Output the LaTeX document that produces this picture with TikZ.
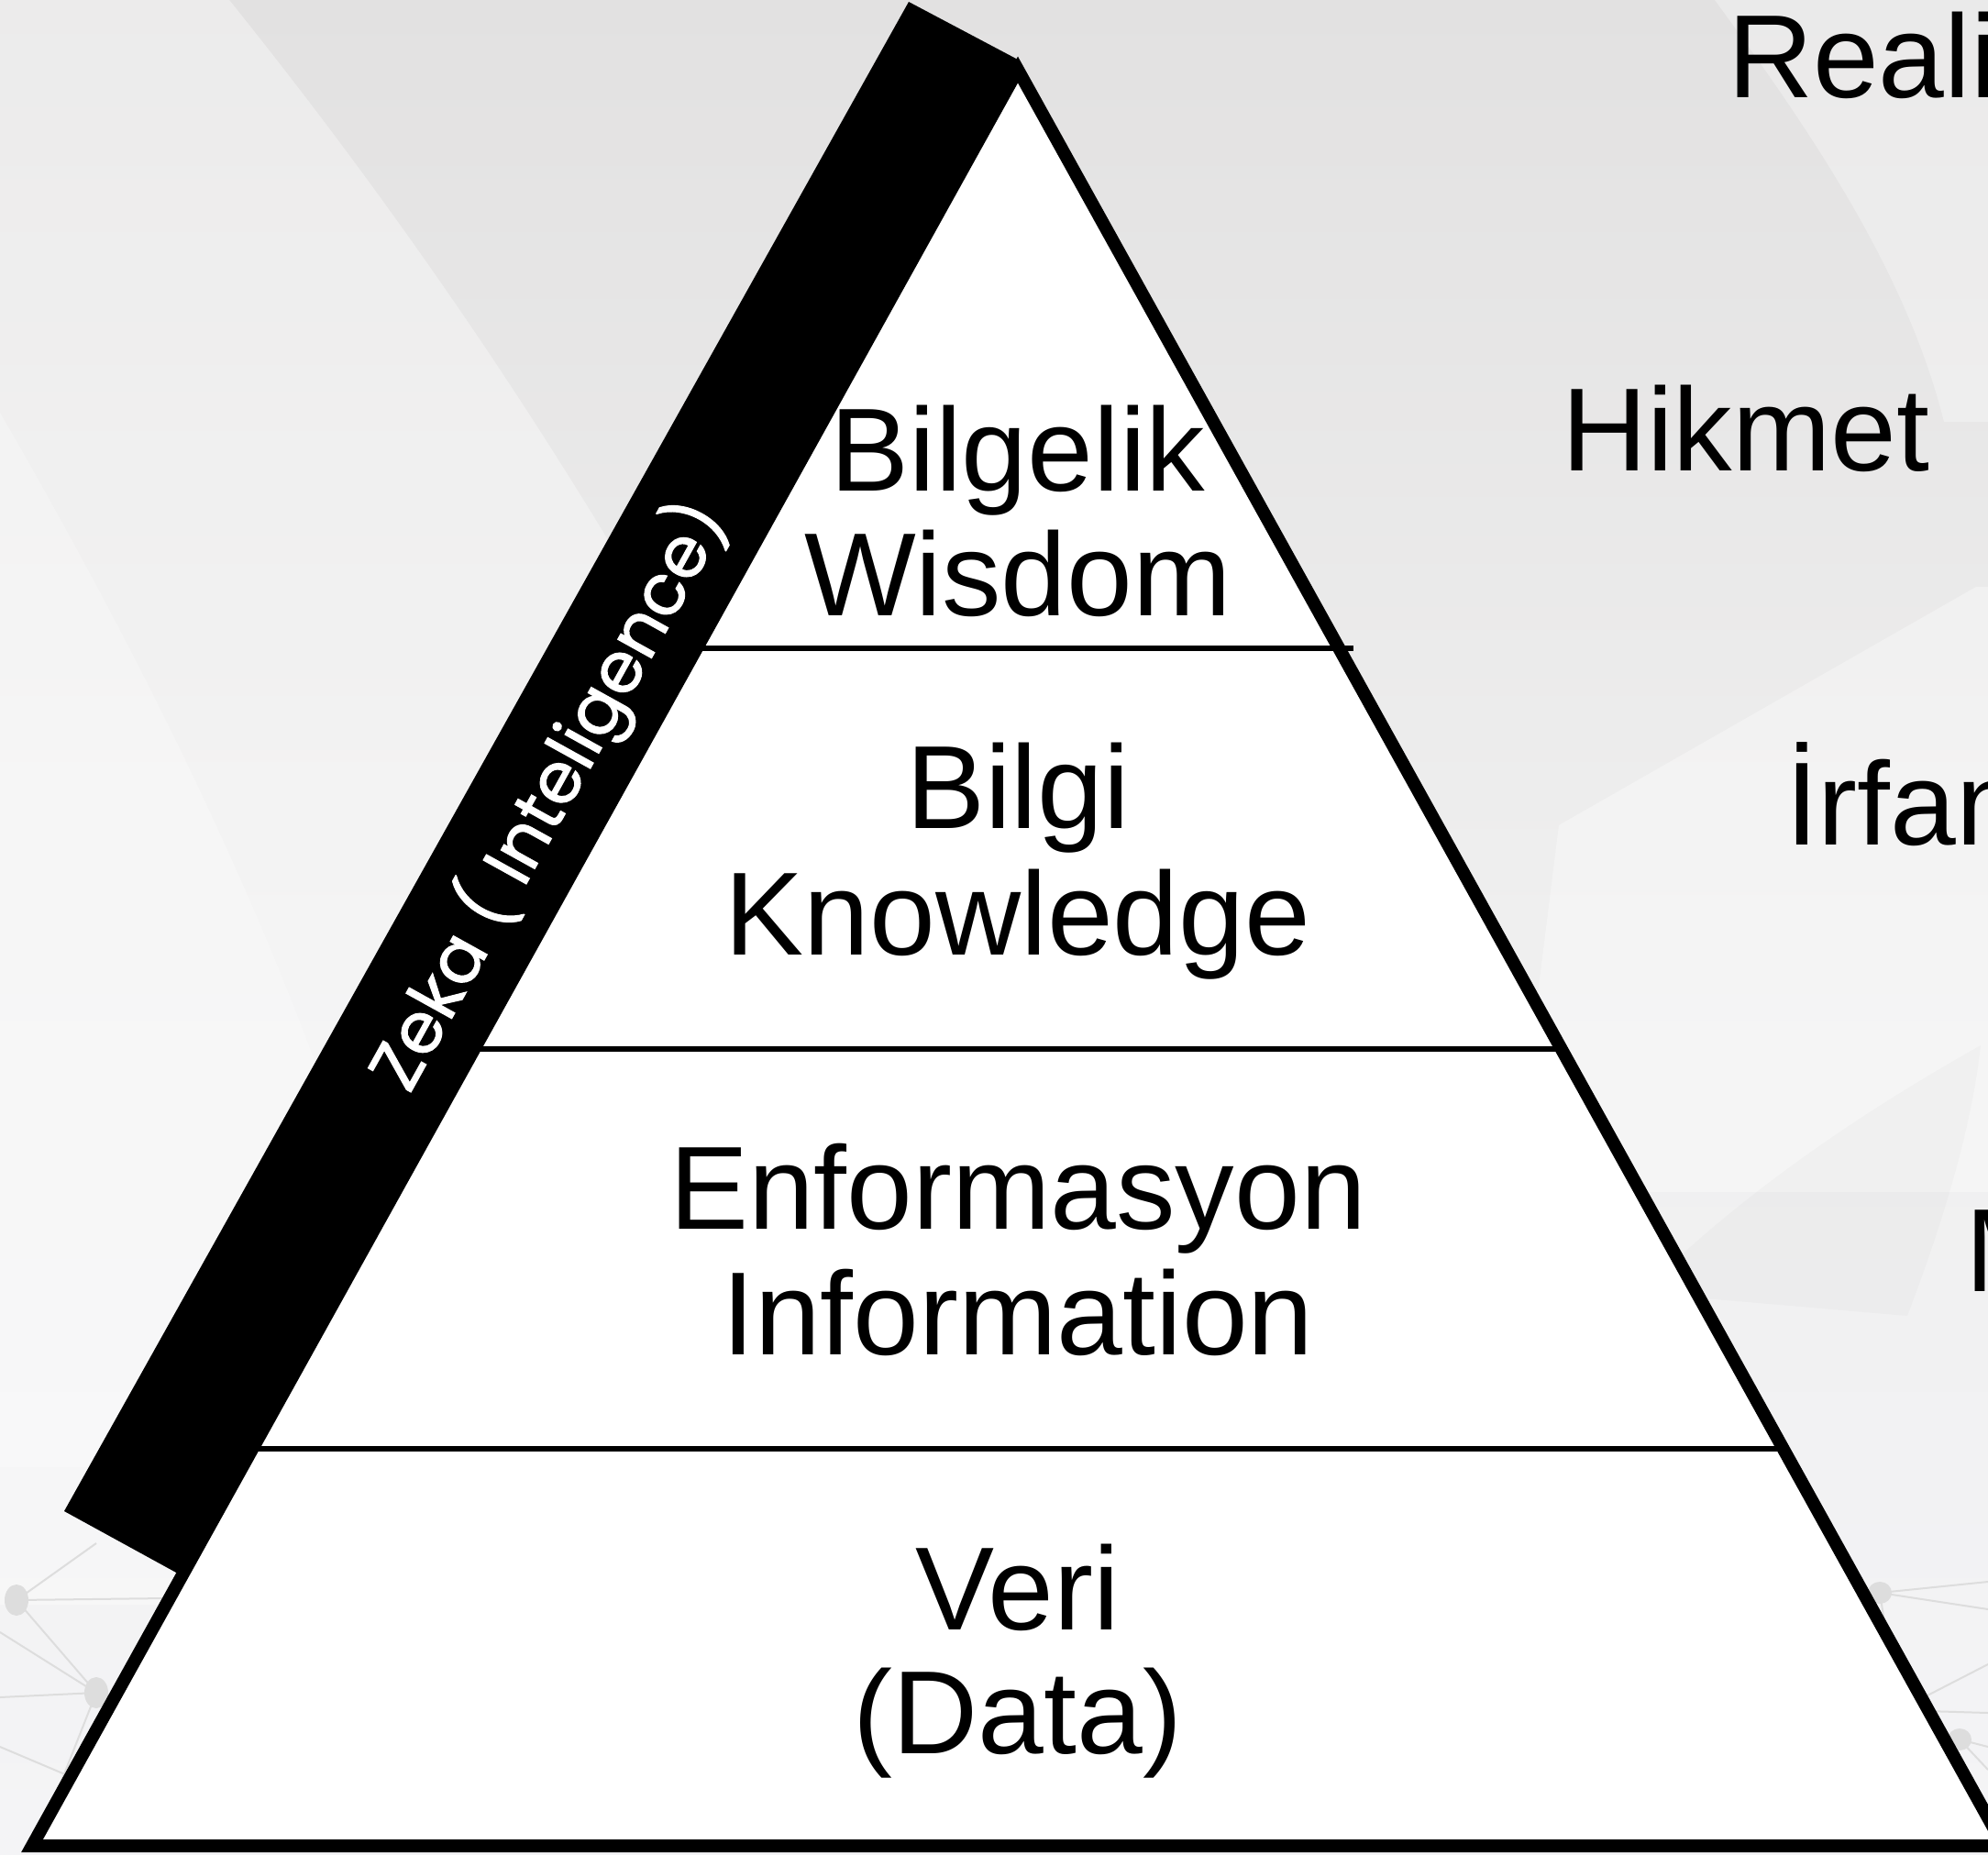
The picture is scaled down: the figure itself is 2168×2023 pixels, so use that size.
\documentclass[tikz,border=0pt]{standalone}
\usepackage{fontspec}
\setmainfont{Liberation Sans}
\newfontfamily\bandfont[FakeBold=1.3]{Poppins}
\definecolor{bgtop}{HTML}{E2E1E1}
\definecolor{bgmid}{HTML}{EFEFEF}
\definecolor{bgbot}{HTML}{F4F4F6}
\definecolor{netgray}{HTML}{DDDDDD}
\tikzset{
  lbl/.style={inner sep=0pt, outer sep=0pt, font=\fontsize{129}{137}\selectfont, text=black},
  sidelbl/.style={lbl, anchor=base west},
  midlbl/.style={lbl, anchor=base},
  divider/.style={line width=5.5pt, black},
  netline/.style={line width=2pt, netgray},
  netdot/.style={fill=netgray, draw=none}
}
\begin{document}
\begin{tikzpicture}[x=1pt,y=-1pt]
\useasboundingbox (0,0) rectangle (2168,2023);
\begin{scope}
\clip (0,0) rectangle (2168,2023);
% background
\shade[top color=bgtop, bottom color=bgbot, middle color=bgmid] (0,0) rectangle (2168,2023);
\fill[white, opacity=0.35] (0,0) -- (250,0) .. controls (700,560) and (1000,1150) .. (1180,1750) -- (0,1750) -- cycle;
\fill[white, opacity=0.25] (0,450) .. controls (260,900) and (400,1250) .. (470,1600) -- (0,1600) -- cycle;
\fill[white, opacity=0.3] (1870,0) .. controls (1980,150) and (2080,300) .. (2120,460) -- (2168,460) -- (2168,0) -- cycle;
\fill[white, opacity=0.35] (2155,640) -- (1700,900) -- (1650,1300) -- (2168,1300) -- (2168,640) -- cycle;
\fill[gray, opacity=0.04] (2160,1140) .. controls (2000,1230) and (1880,1320) .. (1790,1410) -- (2080,1435) .. controls (2120,1330) and (2150,1230) .. (2160,1140) -- cycle;
% network
\draw[netline] (18,1745) -- (105,1846) (18,1745) -- (105,1683) (18,1745) -- (180,1743) (105,1846) -- (0,1780) (105,1846) -- (0,1851) (105,1846) -- (60,1960) (0,1905) -- (130,1960);
\fill[netdot] (18,1745) ellipse (13 and 17);
\fill[netdot] (105,1846) ellipse (13 and 17);
\draw[netline] (2050,1737) -- (2168,1725) (2050,1737) -- (2168,1755) (2050,1737) -- (2060,1800) (2137,1897) -- (2168,1905) (2100,1850) -- (2168,1815) (2137,1897) -- (2168,1930) (2100,1866) -- (2168,1868);
\fill[netdot] (2050,1737) ellipse (13 and 12);
\fill[netdot] (2137,1897) ellipse (13 and 12);
% intelligence band
\fill[black] (991,2) -- (1110,65) -- (194,1716) -- (70,1648) -- cycle;
\node[rotate=61, text=white, inner sep=0pt, font=\bandfont\fontsize{77}{84}\selectfont] (zeka) at (598,868) {Zeka ( Inteligence)};
% pyramid
\coordinate (apex) at (1110,76);
\coordinate (bl) at (35,2013);
\coordinate (br) at (2185,2013);
\filldraw[fill=white, draw=black, line width=14pt, line join=miter, miter limit=10] (apex) -- (br) -- (bl) -- cycle;
\coordinate (d1l) at (760,707);  \coordinate (d1r) at (1476,707);
\coordinate (d2l) at (517,1144); \coordinate (d2r) at (1703,1144);
\coordinate (d3l) at (275,1580); \coordinate (d3r) at (1945,1580);
\draw[divider] (d1l) -- (d1r);
\draw[divider] (d2l) -- (d2r);
\draw[divider] (d3l) -- (d3r);
% level labels
\node[midlbl] (bilgelik) at (1110,535) {Bilgelik};
\node[midlbl] (wisdom) at (1110,671) {Wisdom};
\node[midlbl] (bilgi) at (1110,903) {Bilgi};
\node[midlbl] (knowledge) at (1110,1041) {Knowledge};
\node[midlbl] (enformasyon) at (1110,1340) {Enformasyon};
\node[midlbl] (information) at (1110,1477) {Information};
\node[midlbl] (veri) at (1110,1777) {Veri};
\node[midlbl] (data) at (1110,1912) {(Data)};
% side labels
\node[sidelbl] (reali) at (1884,107) {Reali};
\node[sidelbl] (hikmet) at (1703,513) {Hikmet};
\node[sidelbl] (irfan) at (1947,921) {İrfan};
\node[sidelbl] (m) at (2143,1408) {M};
\end{scope}
\end{tikzpicture}
\end{document}
